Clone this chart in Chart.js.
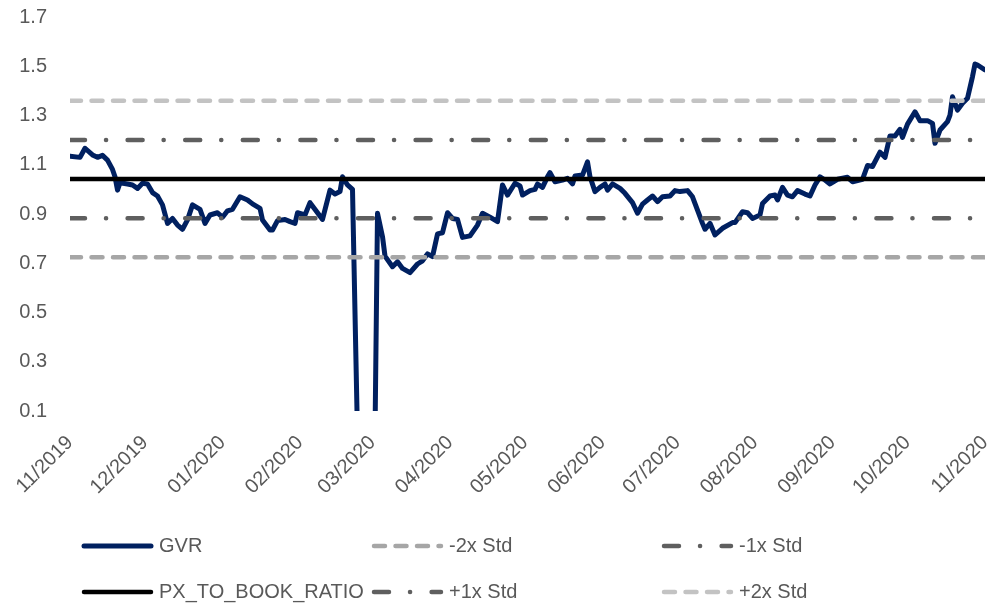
<!DOCTYPE html>
<html>
<head>
<meta charset="utf-8">
<script src="https://cdn.jsdelivr.net/npm/chart.js@4.4.0/dist/chart.umd.min.js"></script>
<style>
  body { margin: 0; background: #fff; }
</style>
</head>
<body>
<canvas id="myChart" width="989" height="605"></canvas>
<script>
// days counted from 2019-11-01
let days = [0, 4, 6, 9, 11, 13, 15, 17, 18, 19, 20, 23, 25, 27, 29, 31, 33, 35, 37, 39,
    41, 43, 45, 47, 49, 52, 54, 56, 59, 61, 63, 65, 68, 71, 73, 76, 77, 80, 81, 83,
    86, 88, 90, 91, 94, 96, 99, 101, 104, 106, 108, 109, 111, 113, 115, 122, 123, 125, 126, 129,
    131, 133, 136, 139, 141, 143, 145, 147, 149, 151, 153, 155, 157, 160, 163, 165, 168, 171, 173, 175,
    178, 180, 181, 184, 186, 187, 189, 191, 192, 194, 197, 199, 201, 202, 205, 207, 208, 210, 212, 214,
    215, 217, 220, 222, 225, 227, 229, 231, 233, 235, 237, 240, 242, 244, 247, 249, 251, 253, 254, 256,
    258, 261, 265, 266, 269, 271, 273, 276, 277, 280, 282, 283, 285, 287, 289, 291, 294, 296, 298, 300,
    302, 304, 307, 311, 313, 317, 319, 321, 324, 326, 328, 330, 332, 333, 335, 338, 340, 343, 345, 346,
    348, 351, 352, 353, 355, 357, 359, 361, 362, 363, 366]
let gvr = [1.135, 1.130, 1.167, 1.140, 1.130, 1.138, 1.119, 1.081, 1.051, 0.997, 1.027, 1.022, 1.018, 1.004, 1.025, 1.022, 0.987, 0.973, 0.937, 0.862,
    0.882, 0.855, 0.838, 0.876, 0.937, 0.919, 0.862, 0.896, 0.905, 0.887, 0.913, 0.919, 0.970, 0.957, 0.941, 0.923, 0.876, 0.835, 0.835, 0.873,
    0.878, 0.869, 0.862, 0.905, 0.896, 0.946, 0.905, 0.878, 0.997, 0.981, 0.991, 1.051, 1.018, 1.000, 0, 0, 0.903, 0.808, 0.729, 0.686,
    0.706, 0.679, 0.662, 0.697, 0.710, 0.738, 0.727, 0.819, 0.824, 0.905, 0.882, 0.878, 0.805, 0.811, 0.855, 0.903, 0.887, 0.869, 1.018, 0.977,
    1.025, 1.014, 0.977, 0.995, 1.000, 1.022, 1.008, 1.051, 1.068, 1.031, 1.038, 1.045, 1.022, 1.054, 1.058, 1.112, 1.051, 0.991, 1.008, 1.022,
    0.997, 1.022, 1.004, 0.984, 0.946, 0.903, 0.940, 0.957, 0.973, 0.950, 0.970, 0.973, 0.995, 0.991, 0.995, 0.970, 0.916, 0.862, 0.838, 0.862,
    0.815, 0.842, 0.865, 0.865, 0.909, 0.905, 0.882, 0.896, 0.943, 0.973, 0.977, 0.957, 1.008, 0.977, 0.970, 0.995, 0.981, 0.973, 1.018, 1.051,
    1.038, 1.022, 1.041, 1.049, 1.031, 1.041, 1.097, 1.093, 1.151, 1.130, 1.217, 1.217, 1.244, 1.211, 1.265, 1.315, 1.279, 1.279, 1.268, 1.187,
    1.241, 1.275, 1.302, 1.376, 1.322, 1.350, 1.370, 1.458, 1.509, 1.505, 1.485]

let pxToBook = 1.042
let stdDev = 0.159

let monthDays = [0, 30, 61, 92, 121, 152, 182, 213, 243, 274, 305, 335, 366]
let monthLabels = ['11/2019', '12/2019', '01/2020', '02/2020', '03/2020', '04/2020', '05/2020',
    '06/2020', '07/2020', '08/2020', '09/2020', '10/2020', '11/2020']
let yTicks = [0.1, 0.3, 0.5, 0.7, 0.9, 1.1, 1.3, 1.5, 1.7]

let fontName = '"Liberation Sans", Arial, sans-serif'
let textColor = '#595959'

function flat(value) {
    return [{ x: monthDays[0], y: value }, { x: monthDays[monthDays.length - 1], y: value }]
}

let dotDash = [15, 21, 0.1, 21.5]
let shortDash = [11, 10.5]

// keep the plot box fixed, labels may hang outside it
function noPad(scale) {
    scale.paddingLeft = 0
    scale.paddingRight = 0
    scale.paddingTop = 0
    scale.paddingBottom = 0
}

// legend drawn as a 3 column grid under the chart
const gridLegend = {
    id: 'gridLegend',
    afterDraw(chart) {
        const ctx = chart.ctx
        chart.data.datasets.forEach((ds, i) => {
            let x = 82 + (i % 3) * 290
            let y = 546 + Math.floor(i / 3) * 46
            ctx.save()
            ctx.strokeStyle = ds.borderColor
            ctx.lineWidth = ds.borderWidth
            ctx.lineCap = 'round'
            ctx.setLineDash(ds.borderDash || [])
            ctx.beginPath()
            ctx.moveTo(x + 2, y)
            ctx.lineTo(x + 69, y)
            ctx.stroke()
            ctx.setLineDash([])
            ctx.fillStyle = textColor
            ctx.font = '20px ' + fontName
            ctx.textBaseline = 'middle'
            ctx.fillText(ds.label, x + 77, y)
            ctx.restore()
        })
    }
}

let ctx = document.getElementById('myChart').getContext('2d')

let myChart = new Chart(ctx, {
    type: 'line',
    data: {
        datasets: [
            {
                label: 'GVR',
                data: days.map((d, i) => ({ x: d, y: gvr[i] })),
                borderColor: '#002060',
                borderWidth: 5,
                borderJoinStyle: 'round',
                borderCapStyle: 'round',
                order: 1
            },
            {
                label: '-2x Std',
                data: flat(pxToBook - 2 * stdDev),
                borderColor: '#A6A6A6',
                borderWidth: 4.5,
                borderDash: shortDash,
                borderCapStyle: 'round'
            },
            {
                label: '-1x Std',
                data: flat(pxToBook - stdDev),
                borderColor: '#5F5F5F',
                borderWidth: 4.5,
                borderDash: dotDash,
                borderCapStyle: 'round'
            },
            {
                label: 'PX_TO_BOOK_RATIO',
                data: flat(pxToBook),
                borderColor: '#000000',
                borderWidth: 4.5
            },
            {
                label: '+1x Std',
                data: flat(pxToBook + stdDev),
                borderColor: '#5F5F5F',
                borderWidth: 4.5,
                borderDash: dotDash,
                borderCapStyle: 'round'
            },
            {
                label: '+2x Std',
                data: flat(pxToBook + 2 * stdDev),
                borderColor: '#C3C3C3',
                borderWidth: 4.5,
                borderDash: shortDash,
                borderCapStyle: 'round'
            }
        ]
    },
    options: {
        responsive: false,
        animation: false,
        devicePixelRatio: 1,
        elements: { point: { radius: 0 }, line: { tension: 0 } },
        layout: { padding: { top: 17, right: 4, bottom: 100, left: 0 } },
        plugins: {
            legend: { display: false },
            tooltip: { enabled: false }
        },
        scales: {
            x: {
                type: 'linear',
                min: monthDays[0],
                max: monthDays[monthDays.length - 1],
                grid: { display: false, drawTicks: false },
                border: { display: false },
                afterBuildTicks: (scale) => { scale.ticks = monthDays.map(v => ({ value: v })) },
                afterFit: (scale) => { scale.height = 94; noPad(scale) },
                ticks: {
                    autoSkip: false,
                    minRotation: 45,
                    maxRotation: 45,
                    padding: 20,
                    color: textColor,
                    font: { family: fontName, size: 20 },
                    callback: (v, i) => monthLabels[i]
                }
            },
            y: {
                min: yTicks[0],
                max: yTicks[yTicks.length - 1],
                grid: { display: false, drawTicks: false },
                border: { display: false },
                afterBuildTicks: (scale) => { scale.ticks = yTicks.map(v => ({ value: v })) },
                afterFit: (scale) => { scale.width = 70; noPad(scale) },
                ticks: {
                    padding: 23,
                    color: textColor,
                    font: { family: fontName, size: 20 },
                    callback: (v) => v.toFixed(1)
                }
            }
        }
    },
    plugins: [gridLegend]
})
</script>
</body>
</html>
